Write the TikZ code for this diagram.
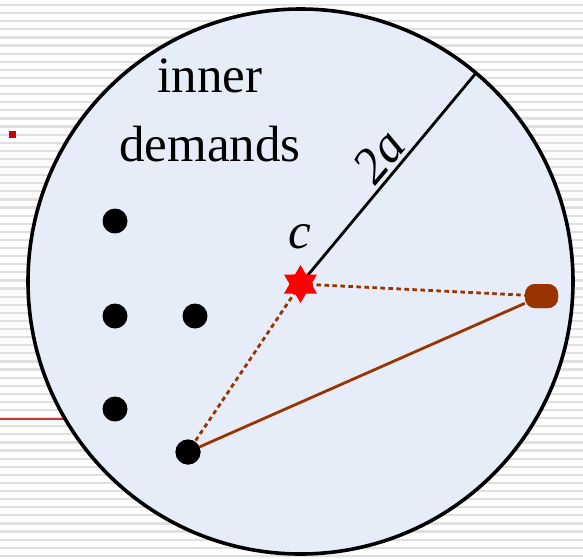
\documentclass[tikz,border=0pt]{standalone}
\usepackage{fontspec}
\setmainfont{Liberation Serif}
\usetikzlibrary{shapes.geometric}
\definecolor{stripe}{RGB}{224,224,224}
\definecolor{disk}{RGB}{231,237,248}
\definecolor{brown}{RGB}{153,51,0}
\definecolor{sqred}{RGB}{204,0,0}
\definecolor{linered}{RGB}{205,55,55}
\tikzset{
  demand/.style={circle,fill=black,minimum size=25pt,inner sep=0pt},
  link/.style={draw=brown,line width=2.8pt},
  dotlink/.style={link,dash pattern=on 4.5pt off 3.5pt},
  facility/.style={rectangle,rounded corners=10pt,fill=brown,minimum width=33pt,minimum height=24pt,inner sep=0pt},
  label/.style={font=\fontsize{51}{69}\selectfont,inner sep=0pt},
}
\begin{document}
\begin{tikzpicture}[x=1pt,y=-1pt]
\useasboundingbox (0,0) rectangle (583,558);
% striped background
\foreach \i in {0,...,68}
  \draw[stripe,line width=2.2pt] (0,{5+8.1*\i}) -- (583,{5+8.1*\i});
\draw[linered,line width=1.3pt] (0,419) -- (120,419);
\fill[sqred] (9,131) rectangle (16,138);
% disk
\node[circle,draw=black,fill=disk,line width=3.6pt,minimum size=545pt,inner sep=0pt] (disk) at (300.5,281.5) {};
% points
\coordinate (c) at (300.5,284);
\coordinate (rim) at (476,73);
\node[demand] (d1) at (115,221) {};
\node[demand] (d2) at (115,316) {};
\node[demand] (d3) at (195,316) {};
\node[demand] (d4) at (115,409) {};
\node[demand] (d5) at (188,452) {};
\node[facility] (fac) at (541.5,296) {};
% connectors
\draw[black,line width=2.8pt] (c) -- (rim);
\draw[dotlink] (c) -- (fac.center);
\draw[dotlink] (c) -- (d5.center);
\draw[link] (d5) -- (fac);
\node[demand] at (d5) {};
\node[facility] at (fac) {};
\node[star,star points=6,star point ratio=1.73,fill=red,minimum size=38pt,inner sep=0pt] (star) at (c) {};
% texts
\node[label,align=center] (inner) at (210,110.5) {inner\\demands};
\node[label,anchor=base] (clab) at (300,248) {\itshape c};
\node[label,rotate=50] (twoa) at (379,156) {\itshape 2a};
\end{tikzpicture}
\end{document}
